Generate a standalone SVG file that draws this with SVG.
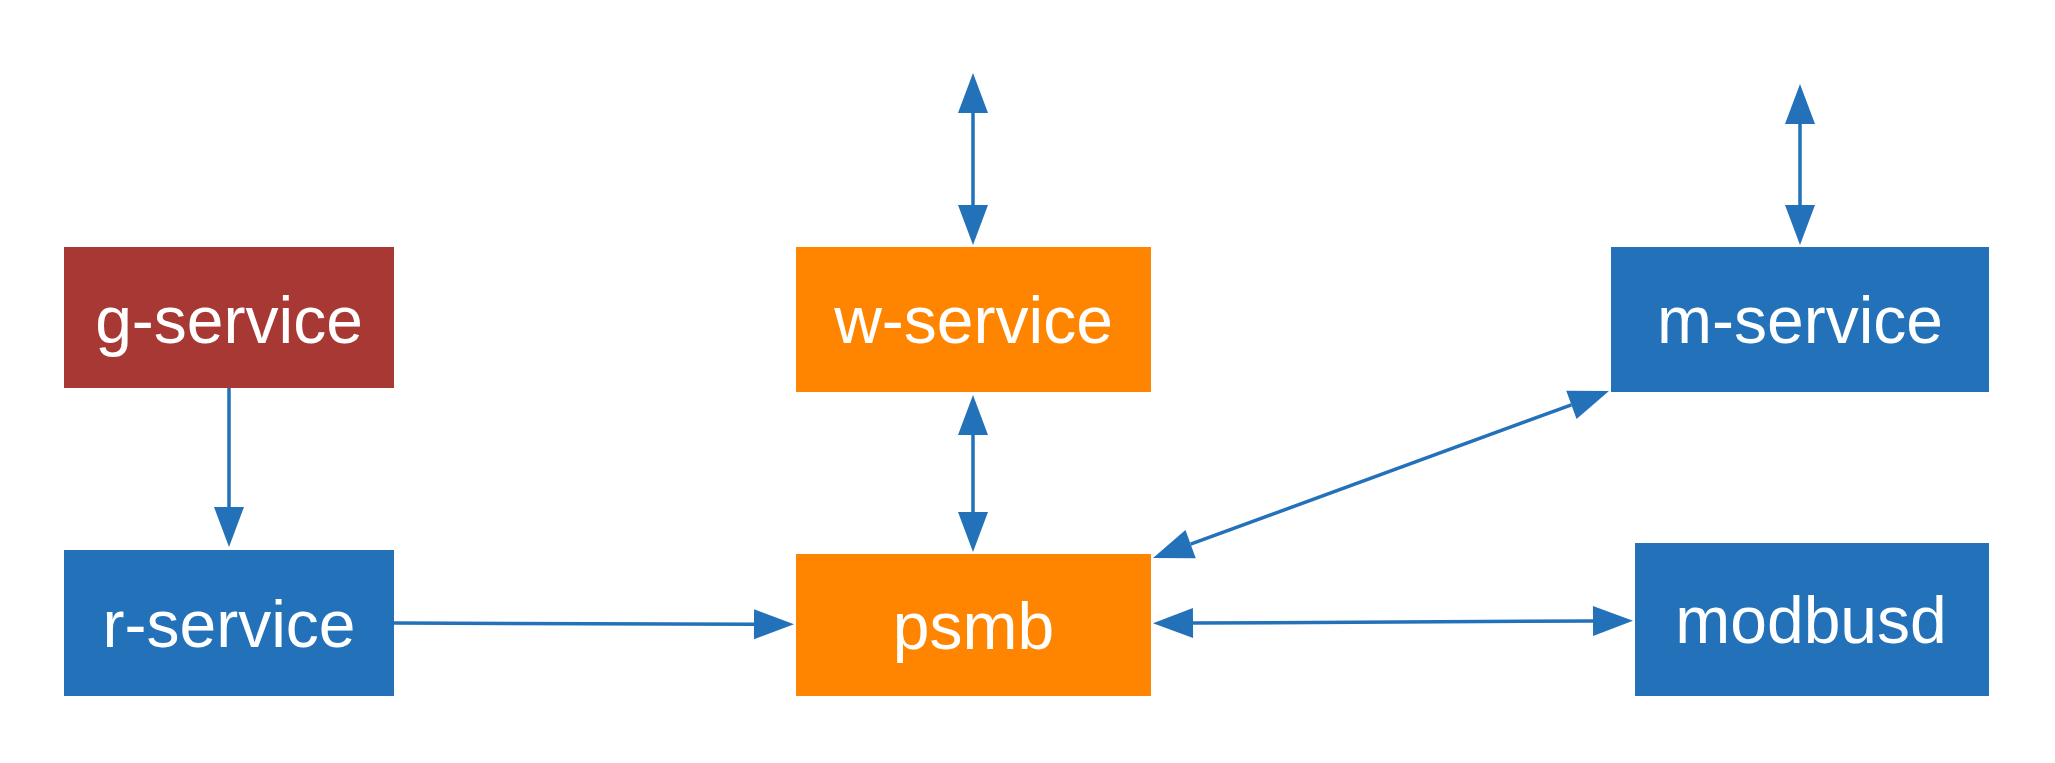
<svg xmlns="http://www.w3.org/2000/svg" width="2055" height="763" viewBox="0 0 2055 763">
<style>
.lbl{font-family:"Liberation Sans",Arial,Helvetica,sans-serif;font-size:66px;fill:#ffffff;text-anchor:middle}
.blue{fill:#2372b9}
.orange{fill:#ff8400}
.red{fill:#a83834}
.conn{stroke:#2372b9;stroke-width:3.5;fill:none}
</style>
<defs>
<marker id="ah" viewBox="0 0 40 30" markerWidth="40" markerHeight="30" refX="0" refY="15" orient="auto-start-reverse" markerUnits="userSpaceOnUse" overflow="visible">
<path d="M0,0 L40,15 L0,30 z" fill="#2372b9"/>
</marker>
</defs>
<rect width="2055" height="763" fill="#ffffff"/>
<g id="g-service"><rect class="red" x="64" y="247" width="330" height="141"/><text class="lbl" x="229" y="343">g-service</text></g>
<g id="r-service"><rect class="blue" x="64" y="550" width="330" height="146"/><text class="lbl" x="229" y="647">r-service</text></g>
<g id="w-service"><rect class="orange" x="796" y="247" width="355" height="145"/><text class="lbl" x="973.5" y="343">w-service</text></g>
<g id="psmb"><rect class="orange" x="796" y="554" width="355" height="142"/><text class="lbl" x="973.5" y="649">psmb</text></g>
<g id="m-service"><rect class="blue" x="1611" y="247" width="378" height="145"/><text class="lbl" x="1800" y="343">m-service</text></g>
<g id="modbusd"><rect class="blue" x="1635" y="543" width="354" height="153"/><text class="lbl" x="1811" y="643">modbusd</text></g>
<g id="connectors">
<line class="conn" x1="973" y1="113" x2="973" y2="205" marker-start="url(#ah)" marker-end="url(#ah)"/>
<line class="conn" x1="973" y1="435" x2="973" y2="512" marker-start="url(#ah)" marker-end="url(#ah)"/>
<line class="conn" x1="1800" y1="124" x2="1800" y2="205" marker-start="url(#ah)" marker-end="url(#ah)"/>
<line class="conn" x1="1190.6" y1="544.2" x2="1571.4" y2="404.8" marker-start="url(#ah)" marker-end="url(#ah)"/>
<line class="conn" x1="394" y1="623" x2="754" y2="624.2" marker-end="url(#ah)"/>
<line class="conn" x1="1193" y1="623.1" x2="1593" y2="620.9" marker-start="url(#ah)" marker-end="url(#ah)"/>
<line class="conn" x1="229" y1="388" x2="229" y2="507" marker-end="url(#ah)"/>
</g>
</svg>
